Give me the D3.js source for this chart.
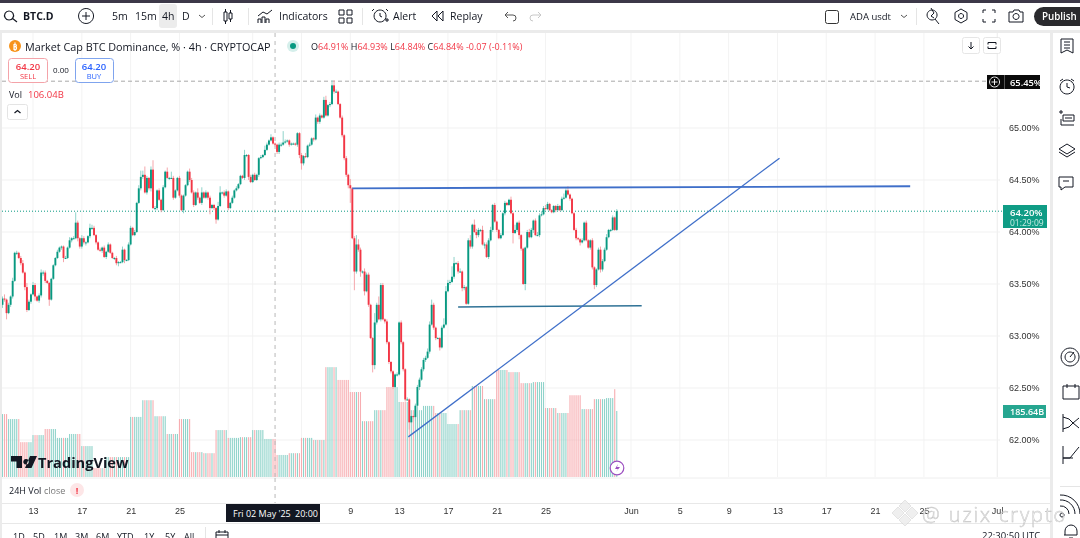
<!DOCTYPE html>
<html lang="en">
<head>
<meta charset="UTF-8">
<title>BTC.D</title>
<script src="https://d3js.org/d3.v7.min.js"></script>
<style>
  html, body { margin: 0; padding: 0; background: #fff; overflow: hidden; }
  svg { display: block; font-family: "Open Sans", "Noto Sans", sans-serif; filter: blur(0.3px); }
</style>
</head>
<body>
<div id="main"></div>
<script>
// 4h closes, % dominance, first bar is 10 Apr 12:00 UTC
const closes = [
  63.36,63.35,63.22,63.30,63.38,63.53,63.80,63.80,63.75,63.70,
  63.61,63.47,63.25,63.33,63.40,63.49,63.38,63.34,63.39,63.61,
  63.61,63.53,63.51,63.35,63.55,63.68,63.75,63.81,63.85,63.86,
  63.75,63.75,63.85,63.92,63.94,63.94,64.09,63.94,63.86,63.94,
  63.90,63.90,63.96,64.04,64.04,63.97,63.90,63.83,63.82,63.85,
  63.76,63.81,63.88,63.80,63.75,63.75,63.70,63.71,63.71,63.83,
  63.73,63.73,63.88,64.04,63.97,64.00,64.28,64.42,64.53,64.55,
  64.38,64.52,64.42,64.60,64.23,64.23,64.40,64.31,64.21,64.43,
  64.58,64.52,64.52,64.52,64.33,64.40,64.52,64.35,64.21,64.35,
  64.45,64.58,64.50,64.38,64.26,64.38,64.33,64.28,64.38,64.33,
  64.38,64.33,64.23,64.26,64.23,64.12,64.25,64.38,64.38,64.35,
  64.39,64.23,64.28,64.33,64.40,64.42,64.46,64.54,64.52,64.74,
  64.74,64.53,64.48,64.55,64.50,64.55,64.71,64.72,64.74,64.79,
  64.84,64.88,64.91,64.85,64.84,64.77,64.84,64.84,64.86,64.87,
  64.88,64.84,64.85,64.85,64.84,64.95,64.74,64.66,64.73,64.72,
  64.83,64.84,64.90,64.89,65.10,65.06,65.12,65.10,65.27,65.12,
  65.22,65.23,65.41,65.35,65.35,65.23,65.10,64.93,64.71,64.55,
  64.45,64.42,63.94,63.62,63.88,63.83,63.62,63.62,63.43,63.59,
  63.30,62.98,62.72,63.13,63.30,63.16,63.49,63.16,63.14,62.94,
  62.75,62.66,62.51,62.63,62.63,63.13,62.94,62.68,62.39,62.39,
  62.17,62.23,62.22,62.33,62.51,62.58,62.68,62.77,62.79,62.85,
  63.11,63.30,63.08,62.98,62.98,62.89,63.08,63.11,63.43,63.51,
  63.52,63.57,63.70,63.70,63.62,63.62,63.46,63.47,63.31,63.92,
  63.86,64.07,64.00,63.97,64.02,64.02,63.88,63.88,63.76,63.92,
  64.02,64.26,64.10,64.02,63.94,63.97,64.18,64.28,64.26,64.31,
  64.18,63.99,64.02,64.09,63.97,63.84,63.50,63.85,64.00,63.95,
  64.02,64.11,63.97,63.97,64.16,64.17,64.23,64.22,64.27,64.21,
  64.19,64.25,64.21,64.25,64.21,64.32,64.33,64.40,64.36,64.32,
  64.18,64.02,63.94,63.93,63.90,63.92,64.09,63.92,63.85,63.92,
  63.66,63.49,63.64,63.83,63.64,63.72,63.83,63.95,64.02,64.02,
  64.14,64.02,64.20
]
// wick above / below the body, in hundredths of a point
const wickUp = [
  2,4,1,2,1,3,1,2,1,2, 3,1,4,2,1,3,2,1,2,3, 2,2,1,1,1,1,1,2,1,1, 1,2,1,3,1,2,10,2,1,3,
  2,1,1,4,3,2,1,1,2,1, 2,1,2,1,1,1,2,1,1,3, 1,1,2,2,1,2,1,3,6,4, 8,2,1,3,9,2,1,2,1,2,
  1,4,1,6,2,1,1,2,1,1, 1,1,3,2,2,1,4,1,5,1, 2,1,2,1,1,1,4,6,1,2, 2,1,1,2,1,2,1,1,1,5,
  1,1,2,1,2,1,1,2,1,4, 2,1,3,1,1,1,2,2,11,2, 1,1,1,1,1,1,1,2,1,3, 1,2,1,1,3,1,2,1,3,4,
  1,2,5,5,2,1,1,2,1,2, 1,6,1,2,9,5,2,1,3,2, 2,1,1,9,2,8,2,2,1,2, 1,1,1,1,2,1,2,1,1,2,
  1,1,1,2,2,2,2,2,2,3, 3,5,2,1,1,1,2,6,5,3, 2,10,6,1,2,3,1,2,1,2, 5,1,5,3,2,1,4,2,2,2,
  3,1,2,1,1,2,1,2,1,1, 3,1,5,1,2,1,1,1,2,3, 2,1,2,3,2,3,2,3,2,1, 1,1,1,2,1,2,4,2,4,1,
  1,1,2,1,1,2,1,2,1,1, 2,1,1,2,3,2,2,3,1,1, 2,1,2
]
const wickDown = [
  3,2,6,1,2,2,1,2,1,2, 1,3,2,1,2,1,4,1,2,2, 3,2,1,6,1,1,1,1,1,2, 4,1,1,1,2,1,1,3,2,2,
  2,3,1,2,2,1,2,1,1,2, 1,2,1,1,1,2,2,3,1,1, 3,1,1,1,1,1,1,1,2,2, 1,2,2,3,1,2,2,1,2,1,
  1,1,2,1,2,1,1,2,1,3, 1,1,2,1,2,1,2,1,2,1, 1,2,6,1,2,4,1,1,2,2, 1,2,1,1,1,1,1,1,1,2,
  2,3,1,1,1,1,2,1,1,1, 1,1,1,1,2,2,2,2,1,1, 1,2,1,1,1,2,3,6,2,1, 1,1,1,2,1,2,2,1,1,1,
  1,2,1,2,1,1,1,2,2,2, 3,14,1,18,2,2,5,2,4,1, 2,1,7,4,2,1,2,1,2,2, 2,2,2,1,2,1,2,2,2,1,
  7,1,2,4,5,3,1,2,2,1, 2,1,2,2,1,3,1,1,1,1, 2,1,2,1,2,1,3,2,1,1, 2,2,1,3,2,2,1,4,1,2,
  1,2,1,2,1,1,1,2,1,1, 1,10,1,2,4,2,1,6,1,1, 1,3,1,1,2,1,1,1,1,1, 1,1,2,1,1,1,1,1,1,2,
  1,1,2,1,3,1,1,1,1,2, 2,4,2,1,3,2,1,1,1,2, 1,1,1
]
// 24H volume per day in billions, 10 Apr .. 30 May
const dayVolumes = [
  177,163,98,118,135,110,121,87,25,56,56,169,216,171,121,163,70,67,132,110,112,
  132,107,62,67,110,104,309,273,239,157,188,253,211,188,200,180,149,188,256,219,
  301,295,264,267,194,180,230,191,219,222
]
const lastBarVolumes = [247, 185.64]

const priceTicks = [65, 64.5, 64, 63.5, 63, 62.5, 62]
const gridDates = ["2025-04-13","2025-04-17","2025-04-21","2025-04-25","2025-04-29","2025-05-01","2025-05-05","2025-05-09","2025-05-13","2025-05-17","2025-05-21","2025-05-25","2025-06-01","2025-06-05","2025-06-09","2025-06-13","2025-06-17","2025-06-21","2025-06-25","2025-07-01"]
// 29 / May / 5 sit under the crosshair date box
const gridLabels = ["13","17","21","25","","","","9","13","17","21","25","Jun","5","9","13","17","21","25","Jul"]

// drawn trend lines: [date, price] pairs
const resistanceLine = [["2025-05-09T04:00Z", 64.42], ["2025-06-23T21:00Z", 64.44]]
const supportLine = [["2025-05-17T20:00Z", 63.28], ["2025-06-01T21:00Z", 63.29]]
const risingLine = [["2025-05-13T18:00Z", 62.03], ["2025-06-13T04:00Z", 64.71]]

const lastPrice = 64.20, highPrice = 65.45
const crosshairDate = "2025-05-02T20:00Z"

const upColor = "#089981", downColor = "#f23645"
const W = 1080, H = 538
const H4 = 4 * 3600 * 1000, DAY = 24 * 3600 * 1000
const firstBar = Date.UTC(2025, 3, 10, 12), firstDay = Date.UTC(2025, 3, 10)

let svg = d3.select("#main").append("svg").attr("width", W).attr("height", H)

let x = d3.scaleUtc()
    .domain([new Date("2025-04-13T00:00Z"), new Date("2025-06-01T00:00Z")])
    .range([33, 631])
let y = d3.scaleLinear().domain([65, 62]).range([128, 440])
let yVol = d3.scaleLinear().domain([0, 185.64]).range([477, 411])

// bars
let bars = closes.map((c, i) => {
    let o = i ? closes[i - 1] : 63.30
    let t = new Date(firstBar + i * H4)
    let vol = dayVolumes[Math.floor((t - firstDay) / DAY)]
    if (i >= closes.length - 2) vol = lastBarVolumes[i - closes.length + 2]
    return {t, o, c, hi: Math.max(o, c) + wickUp[i] / 100, lo: Math.min(o, c) - wickDown[i] / 100, vol, up: c >= o}
})

let text = (px, py, s, o = {}) => svg.append("text")
    .attr("x", px).attr("y", py).text(s)
    .attr("font-size", o.size || 10.5)
    .attr("font-weight", o.weight || 400)
    .attr("fill", o.fill || "#131722")
    .attr("text-anchor", o.anchor || "start")
    .attr("dominant-baseline", "central")
let icon = (px, py, d, o = {}) => svg.append("path")
    .attr("transform", `translate(${px},${py})`).attr("d", d)
    .attr("fill", o.fill || "none").attr("stroke", o.stroke || "#131722").attr("stroke-width", o.sw || 1)

// grid
svg.append("g").selectAll("line").data(gridDates).join("line")
    .attr("x1", d => x(new Date(d + "T00:00Z"))).attr("x2", d => x(new Date(d + "T00:00Z")))
    .attr("y1", 33).attr("y2", 477).attr("stroke", "#f3f3f3")
svg.append("g").selectAll("line").data(priceTicks).join("line")
    .attr("x1", 2).attr("x2", 1000).attr("y1", d => y(d)).attr("y2", d => y(d)).attr("stroke", "#f1f1f1")

// volume
svg.append("g").selectAll("rect").data(bars).join("rect")
    .attr("x", d => x(d.t) - 0.55).attr("width", 1.1)
    .attr("y", d => yVol(d.vol)).attr("height", d => 477 - yVol(d.vol))
    .attr("fill", d => d.up ? "#8fd3ca" : "#f7adb1")

// crosshair and price lines
svg.append("line").attr("x1", x(new Date(crosshairDate))).attr("x2", x(new Date(crosshairDate)))
    .attr("y1", 33).attr("y2", 503).attr("stroke", "#b8b8b8").attr("stroke-dasharray", "4 4")
svg.append("line").attr("x1", 2).attr("x2", 987).attr("y1", y(highPrice)).attr("y2", y(highPrice))
    .attr("stroke", "#a8a8a8").attr("stroke-dasharray", "4 3")
svg.append("line").attr("x1", 2).attr("x2", 1003).attr("y1", y(lastPrice)).attr("y2", y(lastPrice))
    .attr("stroke", upColor).attr("stroke-dasharray", "1 2")

// candles
svg.append("g").selectAll("line").data(bars).join("line")
    .attr("x1", d => x(d.t)).attr("x2", d => x(d.t))
    .attr("y1", d => y(d.hi)).attr("y2", d => y(d.lo))
    .attr("stroke", d => d.up ? "#8fd3ca" : "#f5a6ab").attr("stroke-width", 1)
svg.append("g").selectAll("rect").data(bars).join("rect")
    .attr("x", d => x(d.t) - 0.95).attr("width", 1.9)
    .attr("y", d => y(Math.max(d.o, d.c)))
    .attr("height", d => Math.max(1, Math.abs(y(d.o) - y(d.c))))
    .attr("fill", d => d.up ? upColor : downColor)

// trend lines
let trend = d3.line().x(d => x(new Date(d[0]))).y(d => y(d[1]))
svg.append("path").attr("d", trend(resistanceLine)).attr("stroke", "#3f6fc9").attr("stroke-width", 1.8).attr("fill", "none")
svg.append("path").attr("d", trend(supportLine)).attr("stroke", "#2f7296").attr("stroke-width", 1.5).attr("fill", "none")
svg.append("path").attr("d", trend(risingLine)).attr("stroke", "#3f6fc9").attr("stroke-width", 1.3).attr("fill", "none")

// price axis
let yAxis = d3.axisRight(y).tickValues(priceTicks).tickSize(0).tickPadding(0).tickFormat(d => d.toFixed(2) + "%")
svg.append("g").attr("transform", "translate(1009,0)").call(yAxis)
    .call(g => g.select(".domain").remove())
    .call(g => g.selectAll("text").attr("fill", "#333").attr("font-size", 9).attr("font-family", "inherit"))
svg.append("line").attr("x1", 997.5).attr("x2", 997.5).attr("y1", 33).attr("y2", 477).attr("stroke", "#f0f0f0")

// chrome around the pane
svg.append("rect").attr("width", W).attr("height", 3).attr("fill", "#3c3848")
svg.append("rect").attr("y", 30).attr("width", W).attr("height", 3).attr("fill", "#ebebeb")
svg.append("rect").attr("y", 30).attr("width", 2).attr("height", H).attr("fill", "#ebebeb")
svg.append("rect").attr("x", 1050).attr("y", 30).attr("width", 3).attr("height", H).attr("fill", "#ebebeb")
svg.append("rect").attr("x", 2).attr("y", 478).attr("width", 1048).attr("height", 60).attr("fill", "#fff")
svg.append("line").attr("x1", 2).attr("x2", 1050).attr("y1", 478).attr("y2", 478).attr("stroke", "#eee")
svg.append("line").attr("x1", 2).attr("x2", 1050).attr("y1", 503.5).attr("y2", 503.5).attr("stroke", "#e8e8e8")
svg.append("line").attr("x1", 2).attr("x2", 1050).attr("y1", 523.5).attr("y2", 523.5).attr("stroke", "#e8e8e8")
svg.append("line").attr("x1", x(new Date(crosshairDate))).attr("x2", x(new Date(crosshairDate)))
    .attr("y1", 478).attr("y2", 503).attr("stroke", "#b8b8b8").attr("stroke-dasharray", "4 4")

// time axis
let xAxis = d3.axisBottom(x).tickValues(gridDates.map(d => new Date(d + "T00:00Z")))
    .tickSize(0).tickPadding(0).tickFormat((d, i) => gridLabels[i])
svg.append("g").attr("transform", "translate(0,508)").call(xAxis)
    .call(g => g.select(".domain").remove())
    .call(g => g.selectAll("text").attr("fill", "#333").attr("font-size", 9).attr("font-family", "inherit"))

svg.append("rect").attr("x", 226).attr("y", 504).attr("width", 94).attr("height", 18).attr("fill", "#131722")
text(233, 513, "Fri 02 May '25", {fill: "#fff", size: 9})
text(295, 513, "20:00", {fill: "#fff", size: 9})

// top toolbar
icon(13, 16, "M-4,-5a4.5,4.5 0 1,0 .1,0M-1,2L4,6", {sw: 1.2})
text(23, 16, "BTC.D", {weight: 700, size: 10.5})
icon(86, 16, "M0,-7.5a7.5,7.5 0 1,0 .1,0M-4,0H4M0,-4V4")
text(112, 16, "5m")
text(135, 16, "15m")
svg.append("rect").attr("x", 159).attr("y", 4).attr("width", 18).attr("height", 24).attr("rx", 3).attr("fill", "#ececec")
text(162, 16, "4h")
text(182, 16, "D")
icon(202, 15, "M-3,0L0,2.5L3,0", {stroke: "#555"})
svg.append("line").attr("x1", 212.5).attr("x2", 212.5).attr("y1", 8).attr("y2", 25).attr("stroke", "#e5e5e5")
icon(228, 16, "M-4,-4h3v9h-3zM-2.5,-7v3M-2.5,5v3M1,-3h3v6h-3zM2.5,-6v3M2.5,3v3")
svg.append("line").attr("x1", 248.5).attr("x2", 248.5).attr("y1", 8).attr("y2", 25).attr("stroke", "#e5e5e5")
icon(265, 16, "M-7,7V3h3v4M-3,7V1h3v6M1,7V3h3v4M-7,0L-2,-4L2,-2L7,-6")
text(279, 16, "Indicators", {size: 10.5})
icon(345, 16, "M-6,-6h5v5h-5zM2,-6h5v5h-5zM-6,2h5v5h-5zM2,2h5v5h-5z")
svg.append("line").attr("x1", 362.5).attr("x2", 362.5).attr("y1", 8).attr("y2", 25).attr("stroke", "#e5e5e5")
icon(380, 16, "M0,-6a6,6 0 1,0 .1,0M0,-3V0L2,1M-6,-7L-8,-5M6,-7L8,-5M5,4h4M7,2v4")
text(393, 16, "Alert")
icon(438, 16, "M-1,-5L-6,0L-1,5ZM5,-5L0,0L5,5Z")
text(450, 16, "Replay")
icon(510, 16, "M-5,-1H3a3,3 0 0,1 0,6M-5,-1L-2,-4M-5,-1L-2,2", {stroke: "#555"})
icon(536, 16, "M5,-1H-3a3,3 0 0,0 0,6M5,-1L2,-4M5,-1L2,2", {stroke: "#c8c8c8"})
svg.append("rect").attr("x", 825.5).attr("y", 10.5).attr("width", 13).attr("height", 13).attr("rx", 2).attr("fill", "none").attr("stroke", "#333")
text(850, 16.5, "ADA usdt", {size: 9.5})
icon(904, 16, "M-3,-1L0,1.5L3,-1", {stroke: "#555"})
svg.append("line").attr("x1", 916.5).attr("x2", 916.5).attr("y1", 8).attr("y2", 25).attr("stroke", "#e5e5e5")
icon(932, 16, "M0,-6a5,5 0 1,0 .1,0M3,3L7,8M-1,-8L2,-3L-1,0L2,2")
icon(961, 16, "M-6,-3.5L0,-7L6,-3.5V3.5L0,7L-6,3.5ZM0,-2.5a2.5,2.5 0 1,0 .1,0")
icon(989, 16, "M-6,-3V-6H-3M3,-6H6V-3M6,3V6H3M-3,6H-6V3")
icon(1016, 16, "M-7,-4H-3L-2,-6H3L4,-4H7V6H-7ZM0,-2.5a3,3 0 1,0 .1,0")
svg.append("rect").attr("x", 1034).attr("y", 7).attr("width", 60).attr("height", 19).attr("rx", 9.5).attr("fill", "#2a2a2e")
text(1042, 16.5, "Publish", {fill: "#fff", size: 9.8, weight: 600})

// legend
svg.append("circle").attr("cx", 15).attr("cy", 46).attr("r", 6).attr("fill", "#f7931a")
text(15, 46, "₿", {fill: "#fff", size: 8, anchor: "middle", weight: 700})
text(25, 46, "Market Cap BTC Dominance, % · 4h · CRYPTOCAP", {size: 10.8})
svg.append("circle").attr("cx", 293).attr("cy", 46).attr("r", 6).attr("fill", "#d5efeb")
svg.append("circle").attr("cx", 293).attr("cy", 46).attr("r", 3).attr("fill", upColor)
let ohlc = svg.append("text").attr("x", 311).attr("y", 46).attr("dominant-baseline", "central").attr("font-size", 9)
;[["O", "#131722"], ["64.91% ", downColor], ["H", "#131722"], ["64.93% ", downColor], ["L", "#131722"], ["64.84% ", downColor], ["C", "#131722"], ["64.84% -0.07 (-0.11%)", downColor]]
    .forEach(p => ohlc.append("tspan").text(p[0]).attr("fill", p[1]).attr("xml:space", "preserve"))

svg.append("rect").attr("x", 8.5).attr("y", 58.5).attr("width", 39).attr("height", 24).attr("rx", 3).attr("fill", "#fff").attr("stroke", "#f4a3a9")
text(28, 66, "64.20", {fill: downColor, size: 9.5, anchor: "middle", weight: 600})
text(28, 76, "SELL", {fill: downColor, size: 7.5, anchor: "middle"})
text(61, 69.5, "0.00", {size: 8, anchor: "middle"})
svg.append("rect").attr("x", 75.5).attr("y", 58.5).attr("width", 38).attr("height", 24).attr("rx", 3).attr("fill", "#fff").attr("stroke", "#7fa4ee")
text(94, 66, "64.20", {fill: "#2962ff", size: 9.5, anchor: "middle", weight: 600})
text(94, 76, "BUY", {fill: "#2962ff", size: 7.5, anchor: "middle"})
text(9, 94, "Vol", {size: 9})
text(28, 94, "106.04B", {size: 9.5, fill: downColor})
svg.append("rect").attr("x", 7.5).attr("y", 104.5).attr("width", 20).attr("height", 15).attr("rx", 2).attr("fill", "#fff").attr("stroke", "#e4e4e4")
icon(17.5, 112, "M-3,1L0,-1.5L3,1", {sw: 1.2})

// pane buttons
svg.append("rect").attr("x", 962.5).attr("y", 37.5).attr("width", 17).attr("height", 16).attr("rx", 2).attr("fill", "#fff").attr("stroke", "#e6e6e6")
icon(971, 45.5, "M0,-3.5V3.5M-2.5,1L0,3.5L2.5,1")
svg.append("rect").attr("x", 983.5).attr("y", 37.5).attr("width", 17).attr("height", 16).attr("rx", 2).attr("fill", "#fff").attr("stroke", "#e6e6e6")
icon(992, 45.5, "M-4,-1V-3H4V-1M-4,1V3H4V1")

// price labels
svg.append("rect").attr("x", 987).attr("y", 75).attr("width", 53).attr("height", 14).attr("fill", "#0a0a0a")
icon(994.5, 82, "M0,-5a5,5 0 1,0 .1,0M-3,0H3M0,-3V3", {stroke: "#eee"})
svg.append("line").attr("x1", 1004.5).attr("x2", 1004.5).attr("y1", 75).attr("y2", 89).attr("stroke", "#555")
text(1010, 82, "65.45%", {fill: "#fff", size: 9.3, weight: 600})
svg.append("rect").attr("x", 1003).attr("y", 205).attr("width", 44).attr("height", 23).attr("fill", "#0f9c85")
text(1010, 212, "64.20%", {fill: "#fff", size: 9.5, weight: 600})
text(1010, 222.5, "01:29:09", {fill: "#c8ece5", size: 8.5})
svg.append("rect").attr("x", 1003).attr("y", 405).attr("width", 43).attr("height", 13).attr("fill", "#26a690")
text(1010, 411.5, "185.64B", {fill: "#fff", size: 9, weight: 600})

// logo, alert pill
icon(11, 456, "M0,0H11V12H5.5V5.5H0ZM15,3a2.8,2.8 0 1,0 .1,0ZM19,0H26L20.5,12H14Z", {fill: "#131722", stroke: "none"})
text(38, 462, "TradingView", {size: 14.6, weight: 700, fill: "#131722"})
svg.append("circle").attr("cx", 617).attr("cy", 468).attr("r", 6.8).attr("fill", "#fff").attr("stroke", "#9c4fc0").attr("stroke-width", 1.2)
icon(617, 468, "M1,-4L-2,1H1L-1,4L3,-1H0Z", {fill: "#9c4fc0", stroke: "none"})
text(9, 490, "24H Vol", {size: 9})
text(44, 490, "close", {size: 9, fill: "#777"})
svg.append("circle").attr("cx", 77).attr("cy", 490).attr("r", 7).attr("fill", "#fde6e7")
text(77, 490, "!", {size: 9, fill: downColor, anchor: "middle", weight: 700})

// range row, clipped by the window like the screenshot
;[["1D", 13], ["5D", 33], ["1M", 54], ["3M", 75], ["6M", 96], ["YTD", 117], ["1Y", 144], ["5Y", 165], ["All", 184]]
    .forEach(r => text(r[1], 536, r[0], {size: 9}))
svg.append("line").attr("x1", 205.5).attr("x2", 205.5).attr("y1", 527).attr("y2", 538).attr("stroke", "#e5e5e5")
icon(222, 536, "M-6,-4H6V4H-6ZM-3,-6V-3M3,-6V-3M-6,-1H6")
text(982, 535, "22:30:50 UTC", {size: 9.5})

// right toolbar
icon(1067, 46, "M-6,-7H6V7L0,4L-6,7ZM-3,-4H3M-3,-1H3M-3,2H3")
icon(1067, 87, "M0,-7a7,7 0 1,0 .1,0M0,-4V0L3,1M-7,-6L-4,-8M7,-6L4,-8")
icon(1067, 118, "M-4,-3H7V3H-4ZM-6,1V7H7M-8,-6H-4M-6,-8V-4M-2,0H5")
icon(1067, 150, "M0,-6L8,-1L0,4L-8,-1ZM-8,2L0,7L8,2")
icon(1067, 183, "M-8,-6H6V4H-2L-6,7V4H-8ZM-4,-2H2")
icon(1070, 357, "M0,-9a9,9 0 1,0 .1,0M0,-5a5,5 0 1,0 .1,0M0,0L4,-5")
icon(1071, 392, "M-8,-6H8V7H-8ZM-4,-8V-4M4,-8V-4")
icon(1070, 423, "M-7,-9V9M-7,-6Q0,-5 3,0Q0,5 -7,6M3,0L9,-5M3,0L9,5")
icon(1070, 455, "M-7,-9V9M-7,3H3M-7,3L0,3L9,-8")
svg.append("line").attr("x1", 1060).attr("x2", 1080).attr("y1", 486.5).attr("y2", 486.5).attr("stroke", "#e5e5e5")
icon(1068, 505, "M-6,8a2,2 0 1,0 .1,0M-8,1a8,8 0 0,1 9,8M-8,-5a14,14 0 0,1 15,14M-8,-10a19,19 0 0,1 20,19")
icon(1071, 530, "M-6,5V1a6,6 0 0,1 12,0V5H-7M-2,8H2")

// watermark
let mark = svg.append("g").attr("opacity", 0.8)
mark.append("path").attr("transform", "translate(905,513)")
    .attr("d", "M0,-13L6,-7L0,-1L-6,-7ZM-7,-6L-1,0L-7,6L-13,0ZM7,-6L13,0L7,6L1,0ZM0,1L6,7L0,13L-6,7Z")
    .attr("fill", "#ececec").attr("stroke", "#c4c4c4").attr("stroke-width", 0.5)
mark.append("text").attr("x", 922).attr("y", 514).attr("dominant-baseline", "central").attr("font-size", 20)
    .attr("font-weight", 300).attr("fill", "#f6f6f6").attr("stroke", "#b4b4b4").attr("stroke-width", 0.5).attr("letter-spacing", 1.9).text("@ uzix crypto")
</script>
</body>
</html>
